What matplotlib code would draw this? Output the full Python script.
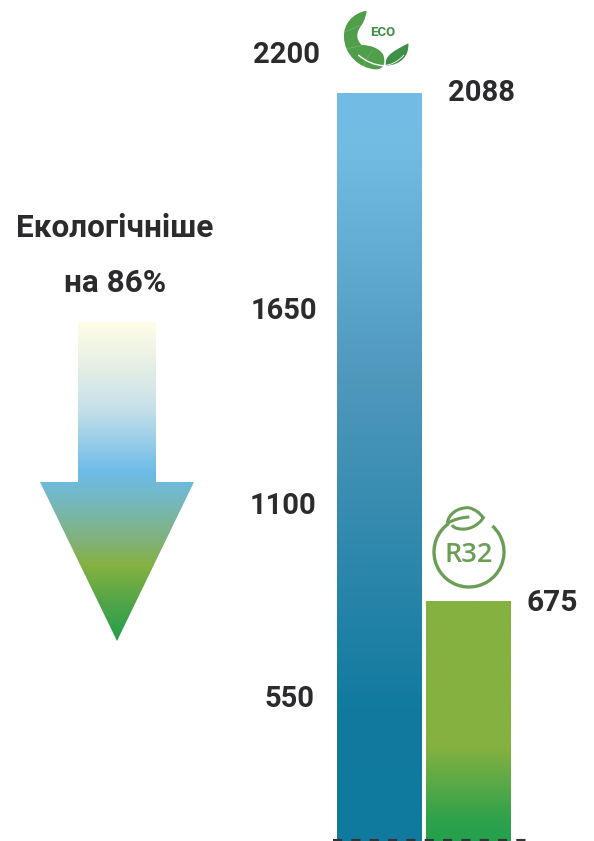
import numpy as np
import matplotlib
matplotlib.use("Agg")
import matplotlib.pyplot as plt
from matplotlib.colors import LinearSegmentedColormap as LSC
from matplotlib.patches import PathPatch, Arc, Polygon
from matplotlib.path import Path

categories = ["R410A", "R32"]
values = [2088, 675]
tick_labels = ["2200", "1650", "1100", "550"]
headline = ["Екологічніше", "на 86%"]

W, H = 594, 841
FONT = "Roboto"
INK = "#2b2b2d"
fig = plt.figure(figsize=(W / 100, H / 100), dpi=100, facecolor="white")

# Data axes: values map linearly onto the bar tops seen in the picture
scale = (601 - 93) / (values[0] - values[1])
base_px = 601 + values[1] * scale
ax = fig.add_axes([0, 0, 1, 1])
ax.set_xlim((0 - 379) / 89.5, (W - 379) / 89.5)
ax.set_ylim((base_px - H) / scale, base_px / scale)
ax.axis("off")

bar_cmaps = [
    LSC.from_list("b", [(0, "#72bce6"), (0.07, "#72bbe3"), (0.38, "#4f98bc"), (0.82, "#127a9f"), (1, "#10799e")]),
    LSC.from_list("g", [(0, "#85b140"), (0.60, "#85b140"), (0.90, "#2fa24c"), (1, "#22a04e")]),
]
bars = ax.bar(range(len(values)), values, width=0.94, color="none", zorder=2)
grad = np.linspace(0, 1, 256)[:, None]
for rect, v, cm in zip(bars, values, bar_cmaps):
    x0, w = rect.get_x(), rect.get_width()
    im = ax.imshow(grad, cmap=cm, vmin=0, vmax=1, aspect="auto", origin="upper",
                   extent=(x0, x0 + w, 0, v), zorder=1, interpolation="bilinear")
    im.set_clip_path(rect)
ax.set_xlim((0 - 379) / 89.5, (W - 379) / 89.5)
ax.set_ylim((base_px - H) / scale, base_px / scale)

# Overlay in pixel coordinates for annotations and decoration
ov = fig.add_axes([0, 0, 1, 1], facecolor="none")
ov.set_xlim(0, W)
ov.set_ylim(H, 0)
ov.axis("off")

def label(x, y, s, size=21, ha="center"):
    ov.text(x, y, s, fontsize=size, fontweight="bold", family=FONT, color=INK,
            ha=ha, va="center_baseline")

for s, (x, y) in zip(tick_labels, [(320, 52), (317, 308), (316, 503), (315, 696)]):
    label(x, y, s, ha="right")
label(448, 90, str(values[0]), ha="left")
label(527, 600, str(values[1]), size=21.5, ha="left")
label(115, 225, headline[0], size=22.7)
label(115, 280, headline[1], size=22.7)

# Dashed baseline
ov.plot([333, 527], [840.4, 840.4], color="#333333", lw=1.5, dashes=(4.4, 4.4), zorder=5)

# Gradient arrow
arrow = Polygon([(78, 322), (156, 322), (156, 482), (194, 482), (117, 641), (40, 482), (78, 482)],
                closed=True, fc="none", ec="none", transform=ov.transData)
ov.add_patch(arrow)
acm = LSC.from_list("a", [(0, "#fffde8"), (0.10, "#eef3e4"), (0.27, "#c6e0ea"), (0.47, "#6dbbe6"),
                          (0.53, "#72b9cf"), (0.68, "#80b27e"), (0.765, "#85b140"), (0.88, "#52a548"), (1, "#22a04c")])
im = ov.imshow(grad, cmap=acm, aspect="auto", origin="upper", extent=(40, 194, 641, 322),
               interpolation="bilinear", zorder=1)
im.set_clip_path(arrow)
ov.set_xlim(0, W)
ov.set_ylim(H, 0)

# ECO badge (zoom coords -> pixels)
def eco(p):
    return [(320 + a / 3, b / 3) for a, b in p]

def curve(pts, codes):
    return Path(eco(pts), codes)

M, C, L = Path.MOVETO, Path.CURVE4, Path.LINETO
big = curve([(140, 32), (95, 40), (70, 75), (72, 110), (72, 165), (120, 205), (165, 208),
             (190, 210), (198, 190), (190, 165), (180, 145), (150, 135), (125, 135),
             (105, 115), (110, 95), (125, 75), (135, 60), (138, 45), (140, 32)],
            [M] + [C] * 18)
small = curve([(198, 197), (192, 170), (215, 155), (265, 130), (268, 165), (245, 195), (198, 197)],
              [M] + [C] * 6)
ov.add_patch(PathPatch(big, fc="#4f9e49", ec="none", zorder=3))
ov.add_patch(PathPatch(small, fc="#3f8f49", ec="none", zorder=3))
for pts in ([(74, 95), (100, 88), (118, 75)], [(80, 148), (100, 140), (125, 137)], [(130, 198), (140, 170), (160, 150)]):
    ov.add_patch(PathPatch(curve(pts, [M, Path.CURVE3, Path.CURVE3]), fc="none", ec="#7ab46f", lw=0.5, zorder=4))
vein = curve([(115, 165), (150, 195), (190, 197)], [M, Path.CURVE3, Path.CURVE3])
vein2 = curve([(190, 197), (225, 195), (252, 165)], [M, Path.CURVE3, Path.CURVE3])
ov.add_patch(PathPatch(vein, fc="none", ec="white", lw=1.0, zorder=4))
ov.add_patch(PathPatch(vein2, fc="none", ec="white", lw=0.6, zorder=4))
ov.text(383, 32.5, "ECO", fontsize=9.5, fontweight="bold", family="Roboto",
        color="#3f8f49", ha="center", va="center")

# R32 badge
G = "#6a9e56"
ov.add_patch(Arc((469, 552), 70, 70, theta1=-48, theta2=235, color=G, lw=2.4, zorder=3))
def r32(p):
    return [(420 + a / 3, 495 + b / 3) for a, b in p]
leaf = Path(r32([(82, 85), (85, 55), (115, 38), (145, 38), (165, 42), (180, 55), (190, 68),
                 (175, 92), (145, 105), (125, 102), (110, 102), (100, 97), (96, 90)]),
            [M] + [C] * 12)
ov.add_patch(PathPatch(leaf, fc="white", ec=G, lw=2.2, zorder=4))
vn = Path(r32([(82, 85), (110, 68), (148, 66)]), [M, Path.CURVE3, Path.CURVE3])
ov.add_patch(PathPatch(vn, fc="none", ec=G, lw=2.2, zorder=4))
ov.text(469, 555, "R32", fontsize=19.5, family="Open Sans", fontweight="semibold", color=G,
        ha="center", va="center", zorder=4)

fig.savefig("out.png", dpi=100)
